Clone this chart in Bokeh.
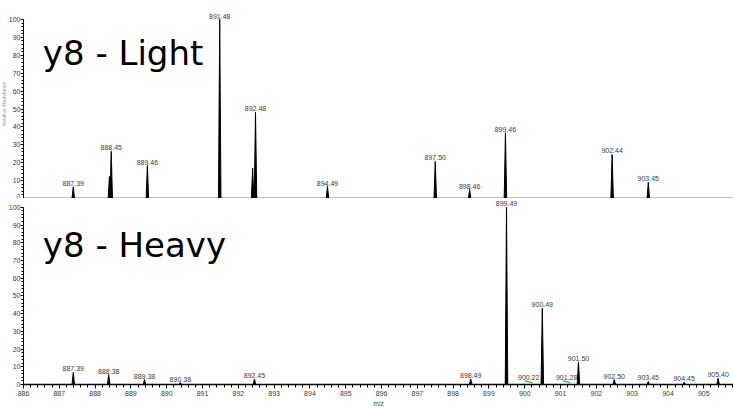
import numpy as np
from bokeh.plotting import figure
from bokeh.models import Range1d, SingleIntervalTicker, FixedTicker, Label, Title
from bokeh.layouts import column
from bokeh.embed import file_html
from bokeh.resources import INLINE

# ---------------- data ----------------
light_mz = [887.39, 888.45, 889.46, 891.48, 892.48, 894.49, 897.50, 898.46, 899.46, 902.44, 903.45]
light_int = [6.5, 26.4, 18.4, 100.0, 48.2, 6.7, 20.7, 5.0, 36.7, 24.6, 9.1]
light_shoulder_mz = [888.40, 892.40]
light_shoulder_int = [12.3, 17.0]

heavy_mz = [887.39, 888.38, 889.38, 890.38, 892.45, 898.49, 899.49, 900.49, 901.50, 902.50, 903.45, 904.45, 905.40]
heavy_int = [6.8, 5.5, 2.8, 1.1, 3.1, 3.1, 100.0, 43.0, 12.7, 2.8, 1.7, 1.3, 3.5]
heavy_minor_mz = [900.22, 901.28]
heavy_minor_int = [2.0, 2.0]

y_major = list(range(0, 101, 10))
y_minor = list(range(0, 101, 2))

x_start, x_end = 886.0, 905.83
HALF_W = 0.035
LABEL_FONT = "Liberation Sans"
LABEL_COLOR = "#3a3a3a"
LEFT = 21


def peak_shapes(mz, inten):
    xs = [[m - HALF_W, m, m + HALF_W] for m in mz]
    ys = [[0, h, 0] for h in inten]
    return xs, ys


def style_common(p):
    p.outline_line_color = None
    p.xgrid.visible = False
    p.ygrid.visible = False
    p.background_fill_color = "white"
    p.border_fill_color = "white"
    yax = p.yaxis[0]
    yax.ticker = FixedTicker(ticks=y_major, minor_ticks=y_minor)
    yax.bounds = (0, 100)
    yax.major_tick_out = 3
    yax.major_tick_in = 0
    yax.minor_tick_out = 2
    yax.minor_tick_in = 0
    yax.major_label_standoff = 0
    yax.major_label_text_font = LABEL_FONT
    yax.major_label_text_font_size = "7px"
    yax.major_label_text_color = LABEL_COLOR
    yax.axis_line_color = "black"
    yax.major_tick_line_color = "black"
    yax.minor_tick_line_color = "black"


def add_labels(p, mz, inten, xs=None):
    xs = xs if xs is not None else mz
    for x, y, m in zip(xs, inten, mz):
        p.add_layout(Label(x=x, y=y, text="%.2f" % m, text_align="center",
                           text_baseline="bottom", y_offset=1,
                           text_font=LABEL_FONT, text_font_size="7px",
                           text_color=LABEL_COLOR))


# ---------------- top: light ----------------
top = figure(width=733, height=198, x_range=Range1d(x_start, x_end), y_range=Range1d(0, 105.59),
             output_backend="svg", toolbar_location=None,
             min_border_left=LEFT, min_border_right=0, min_border_top=9, min_border_bottom=0)
style_common(top)
top.add_layout(Title(text="Relative Abundance", align="center", standoff=-3, offset=0,
                     text_font=LABEL_FONT, text_font_size="5px", text_font_style="normal",
                     text_color="#9a9a9a"), "left")

xa = top.xaxis[0]
xa.ticker = FixedTicker(ticks=[])
xa.major_tick_out = 0
xa.major_tick_in = 0
xa.minor_tick_out = 0
xa.minor_tick_in = 0
xa.major_label_standoff = 0
xa.major_label_text_font_size = "0px"
xa.axis_line_color = "black"
xa.axis_line_width = 1.5

xs, ys = peak_shapes(light_mz, light_int)
top.patches(xs, ys, fill_color="black", line_color="black", line_width=1)
xs2, ys2 = peak_shapes(light_shoulder_mz, light_shoulder_int)
top.patches(xs2, ys2, fill_color="black", line_color="black", line_width=1)
add_labels(top, light_mz, light_int)

top.add_layout(Label(x=886.54, y=81.3, text="y8 - Light", text_font="DejaVu Sans",
                     text_font_size="34px", text_color="black", text_baseline="alphabetic"))

# ---------------- bottom: heavy ----------------
bot = figure(width=733, height=211, x_range=top.x_range, y_range=Range1d(0, 104.42),
             output_backend="svg", toolbar_location=None,
             min_border_left=LEFT, min_border_right=0, min_border_top=1, min_border_bottom=21)
style_common(bot)
bx = bot.xaxis[0]
bx.ticker = SingleIntervalTicker(interval=1, num_minor_ticks=5)
bx.major_tick_out = 4
bx.major_tick_in = 0
bx.minor_tick_out = 3
bx.minor_tick_in = 0
bx.major_label_standoff = 2
bx.major_label_text_font = LABEL_FONT
bx.major_label_text_font_size = "7px"
bx.major_label_text_color = LABEL_COLOR
bx.axis_label = "m/z"
bx.axis_label_standoff = 1
bx.axis_label_text_font = LABEL_FONT
bx.axis_label_text_font_size = "6.5px"
bx.axis_label_text_font_style = "normal"
bx.axis_label_text_color = LABEL_COLOR
bx.axis_line_color = "black"
bx.axis_line_width = 1.5
bx.major_tick_line_color = "black"
bx.minor_tick_line_color = "black"

xs, ys = peak_shapes(heavy_mz, heavy_int)
bot.patches(xs, ys, fill_color="black", line_color="black", line_width=1)
bot.segment(x0=[m - 0.22 for m in heavy_minor_mz], y0=heavy_minor_int,
            x1=heavy_minor_mz, y1=[h * 0.5 for h in heavy_minor_int],
            line_color="#33aa33", line_width=1.2)
add_labels(bot, heavy_mz, heavy_int)
add_labels(bot, heavy_minor_mz, heavy_minor_int, xs=[m - 0.11 for m in heavy_minor_mz])

bot.add_layout(Label(x=886.54, y=78.7, text="y8 - Heavy", text_font="DejaVu Sans",
                     text_font_size="34px", text_color="black", text_baseline="alphabetic"))

layout = column(top, bot, spacing=0)
open("out.html", "w").write(file_html(layout, INLINE))
